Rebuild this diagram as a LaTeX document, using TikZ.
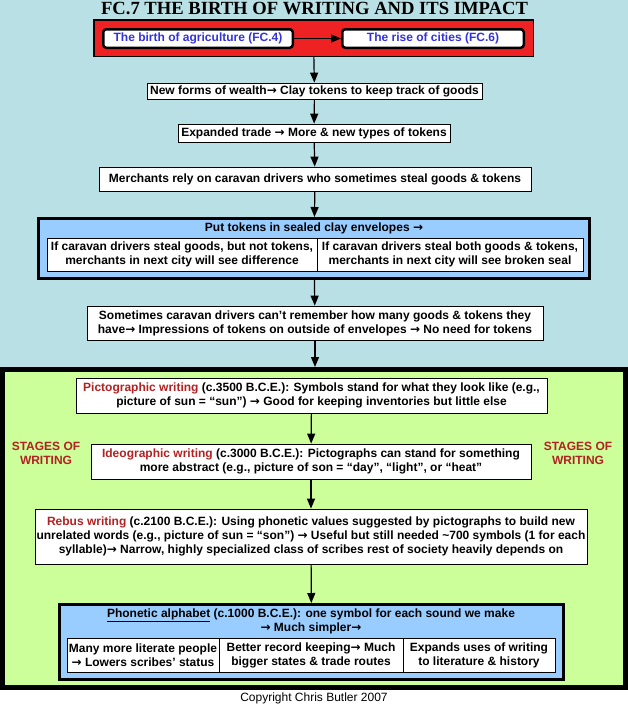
\documentclass[tikz,border=0pt]{standalone}
\usepackage{fontspec}
\setmainfont{Liberation Sans}
\newfontfamily\titlefont{Liberation Serif}
\newfontfamily\arrowfont{DejaVu Sans}
\newcommand\rarr{{\arrowfont\bfseries →}}
\usetikzlibrary{arrows.meta}
\definecolor{bgblue}{RGB}{185,224,228}
\definecolor{boxblue}{RGB}{153,204,255}
\definecolor{boxred}{RGB}{238,34,34}
\definecolor{boxgreen}{RGB}{204,255,153}
\definecolor{txtred}{RGB}{178,34,34}
\definecolor{txtblue}{RGB}{51,51,221}
\begin{document}
\begin{tikzpicture}[x=1pt,y=-1pt,
 every node/.style={font=\fontsize{12}{14}\selectfont\bfseries, inner sep=0pt, align=center},
 plainbox/.style={draw, fill=white, line width=0.8pt},
 linkbox/.style={draw, fill=white, line width=2.5pt, rounded corners=3pt, text=txtblue},
 framebox/.style={draw, line width=3pt},
 stagelbl/.style={text=txtred},
 arr/.style={-{Triangle[length=10pt,width=8pt]}, line width=1.2pt},
]
\useasboundingbox (0,0) rectangle (628,705);
\fill[bgblue] (0,0) rectangle (628,367);
\fill[white] (0,690) rectangle (628,705);
\node[draw, fill=boxgreen, line width=5pt, minimum width=623pt, minimum height=318pt] (green) at (314,528.5) {};

\node[font=\titlefont\fontsize{18.6}{20}\selectfont\bfseries] (title) at (314.5,8.5) {FC.7 THE BIRTH OF WRITING AND ITS IMPACT};

\node[draw, fill=boxred, line width=1.5pt, minimum width=439.5pt, minimum height=36.5pt] (red) at (313.5,38) {};
\node[linkbox, minimum width=189.5pt, minimum height=18.5pt] (agri) at (198,38.5) {The birth of agriculture (FC.4)};
\node[linkbox, minimum width=181.5pt, minimum height=18.5pt] (cities) at (433,38.5) {The rise of cities (FC.6)};
\draw[arr] (agri) -- (cities);

\node[plainbox, minimum width=335pt, minimum height=16pt] (n1) at (314.5,91) {New forms of wealth\rarr\ Clay tokens to keep track of goods};
\node[plainbox, minimum width=272pt, minimum height=18pt] (n2) at (314,133) {Expanded trade \rarr\ More \& new types of tokens};
\node[plainbox, minimum width=432pt, minimum height=24pt] (n3) at (315,179) {Merchants rely on caravan drivers who sometimes steal goods \& tokens};

\node[framebox, fill=boxblue, minimum width=551pt, minimum height=60pt] (blue) at (314,248.5) {};
\node (bluetitle) at (314,228) {Put tokens in sealed clay envelopes \rarr};
\node[plainbox, minimum width=270pt, minimum height=33pt] (tl) at (182,254.5) {If caravan drivers steal goods, but not tokens,\\ merchants in next city will see difference};
\node[plainbox, minimum width=266pt, minimum height=33pt] (tr) at (450,254.5) {If caravan drivers steal both goods \& tokens,\\ merchants in next city will see broken seal};

\node[plainbox, minimum width=456pt, minimum height=34pt] (n5) at (315,323) {Sometimes caravan drivers can’t remember how many goods \& tokens they\\ have\rarr\ Impressions of tokens on outside of envelopes \rarr\ No need for tokens};

\draw[arr] (red) -- (n1);
\draw[arr] (n1) -- (n2);
\draw[arr] (n2) -- (n3);
\draw[arr] (n3) -- (blue);
\draw[arr] (blue) -- (n5);
\coordinate (gtop) at (315,367);
\draw[arr] (n5) -- (gtop);

\node[plainbox, minimum width=471pt, minimum height=35pt] (n6) at (311.5,395.5) {\textcolor{txtred}{Pictographic writing} (c.3500 B.C.E.): Symbols stand for what they look like (e.g.,\\ picture of sun = “sun”) \rarr\ Good for keeping inventories but little else};
\node[plainbox, minimum width=440pt, minimum height=35pt] (n7) at (311,461.5) {\textcolor{txtred}{Ideographic writing} (c.3000 B.C.E.): Pictographs can stand for something\\ more abstract (e.g., picture of son = “day”, “light”, or “heat”};
\node[plainbox, minimum width=552pt, minimum height=55pt] (n8) at (311,536.5) {\textcolor{txtred}{Rebus writing} (c.2100 B.C.E.): Using phonetic values suggested by pictographs to build new\\ unrelated words (e.g., picture of sun = “son”) \rarr\ Useful but still needed \textasciitilde700 symbols (1 for each\\ syllable)\rarr\ Narrow, highly specialized class of scribes rest of society heavily depends on};

\node[stagelbl] (stL) at (46,453) {STAGES OF\\ WRITING};
\node[stagelbl] (stR) at (578,453) {STAGES OF\\ WRITING};

\node[framebox, fill=boxblue, minimum width=504pt, minimum height=75pt] (phon) at (311.5,642) {};
\node (phontitle) at (311,621.5) {\underline{Phonetic alphabet} (c.1000 B.C.E.): one symbol for each sound we make\\ \rarr\ Much simpler\rarr};
\node[plainbox, minimum width=152pt, minimum height=34pt] (p1) at (143,655) {Many more literate people\\ \rarr\ Lowers scribes’ status};
\node[plainbox, minimum width=184pt, minimum height=34pt] (p2) at (311,655) {Better record keeping\rarr\ Much\\ bigger states \&  trade routes};
\node[plainbox, minimum width=152pt, minimum height=34pt] (p3) at (479,655) {Expands uses of writing\\ to literature \& history};

\draw[arr] (n6) -- (n7);
\draw[arr] (n7) -- (n8);
\draw[arr] (n8) -- (phon);

\node[font=\fontsize{12}{14}\selectfont] (copy) at (314,698) {Copyright Chris Butler 2007};
\end{tikzpicture}
\end{document}
